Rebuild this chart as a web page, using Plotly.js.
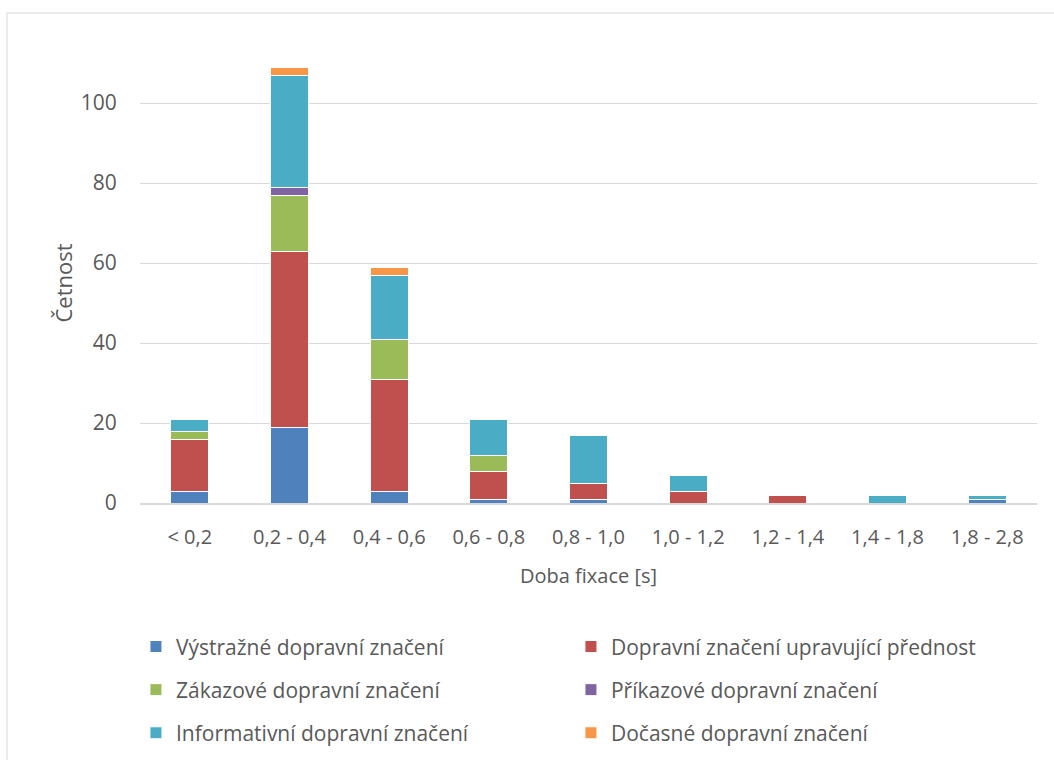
<!DOCTYPE html>
<html><head><meta charset="utf-8">
<script src="https://cdn.plot.ly/plotly-3.0.1.min.js"></script>
<style>html,body{margin:0;padding:0;background:#fff}#c{width:1054px;height:760px}</style>
</head><body><div id="c"></div>
<script>
const categories = ["< 0,2","0,2 - 0,4","0,4 - 0,6","0,6 - 0,8","0,8 - 1,0","1,0 - 1,2","1,2 - 1,4","1,4 - 1,8","1,8 - 2,8"];
const seriesNames = ["Výstražné dopravní značení","Dopravní značení upravující přednost","Zákazové dopravní značení","Příkazové dopravní značení","Informativní dopravní značení","Dočasné dopravní značení"];
const vystrazne   = [3, 19, 3, 1, 1, 0, 0, 0, 1];
const prednost    = [13, 44, 28, 7, 4, 3, 2, 0, 0];
const zakazove    = [2, 14, 10, 4, 0, 0, 0, 0, 0];
const prikazove   = [0, 2, 0, 0, 0, 0, 0, 0, 0];
const informativni= [3, 28, 16, 9, 12, 4, 0, 2, 1];
const docasne     = [0, 2, 2, 0, 0, 0, 0, 0, 0];
const colors = ["#4F81BD","#C0504D","#9BBB59","#8064A2","#4BACC6","#F79646"];
const values = [vystrazne, prednost, zakazove, prikazove, informativni, docasne];
const legendIds = ["legend","legend","legend2","legend2","legend3","legend3"];

const FONT = "Open Sans, sans-serif";
const traces = values.map((v,i)=>({
  type:"bar", name:seriesNames[i], x:categories, y:v,
  marker:{color:colors[i], line:{color:"#ffffff", width:1}},
  legend:legendIds[i], hoverinfo:"skip"
}));
const legBase = {orientation:"h", entrywidth:390, entrywidthmode:"pixels", xanchor:"left", yanchor:"middle",
  font:{family:FONT, size:21, color:"#595959"}, bgcolor:"rgba(0,0,0,0)", itemwidth:30, traceorder:"normal"};
const layout = {
  width:1054, height:760,
  margin:{l:140, r:17, t:63, b:257, autoexpand:false},
  barmode:"stack", bargap:0.62,
  paper_bgcolor:"#fff", plot_bgcolor:"#fff",
  font:{family:FONT, color:"#595959", size:18},
  xaxis:{type:"category", tickfont:{family:FONT, size:20, color:"#595959"}, ticks:"outside", ticklen:15, tickcolor:"rgba(0,0,0,0)",
    showline:true, linecolor:"#d9d9d9", linewidth:1.5, showgrid:false, automargin:false,
    title:{text:"Doba fixace [s]", font:{family:FONT, size:20, color:"#595959"}, standoff:20}},
  yaxis:{range:[0,110], tickvals:[0,20,40,60,80,100], tickfont:{family:FONT, size:21, color:"#595959"},
    ticks:"outside", ticklen:18, tickcolor:"rgba(0,0,0,0)", showgrid:true, gridcolor:"#d9d9d9", gridwidth:1,
    zeroline:false, showline:false, automargin:false,
    title:{text:"Četnost", font:{family:FONT, size:22, color:"#595959"}, standoff:2}},
  showlegend:true,
  legend: Object.assign({}, legBase, {x:-0.0045, y:-0.327}),
  legend2: Object.assign({}, legBase, {x:-0.0045, y:-0.425}),
  legend3: Object.assign({}, legBase, {x:-0.0045, y:-0.523}),
  shapes:[{type:"rect", xref:"paper", yref:"paper", x0:-0.1483, y0:-0.7, x1:1.05, y1:1.1136,
    line:{color:"#d9d9d9", width:1}, fillcolor:"rgba(0,0,0,0)", layer:"below"}]
};
Plotly.newPlot("c", traces, layout, {displayModeBar:false, staticPlot:true});
</script></body></html>
